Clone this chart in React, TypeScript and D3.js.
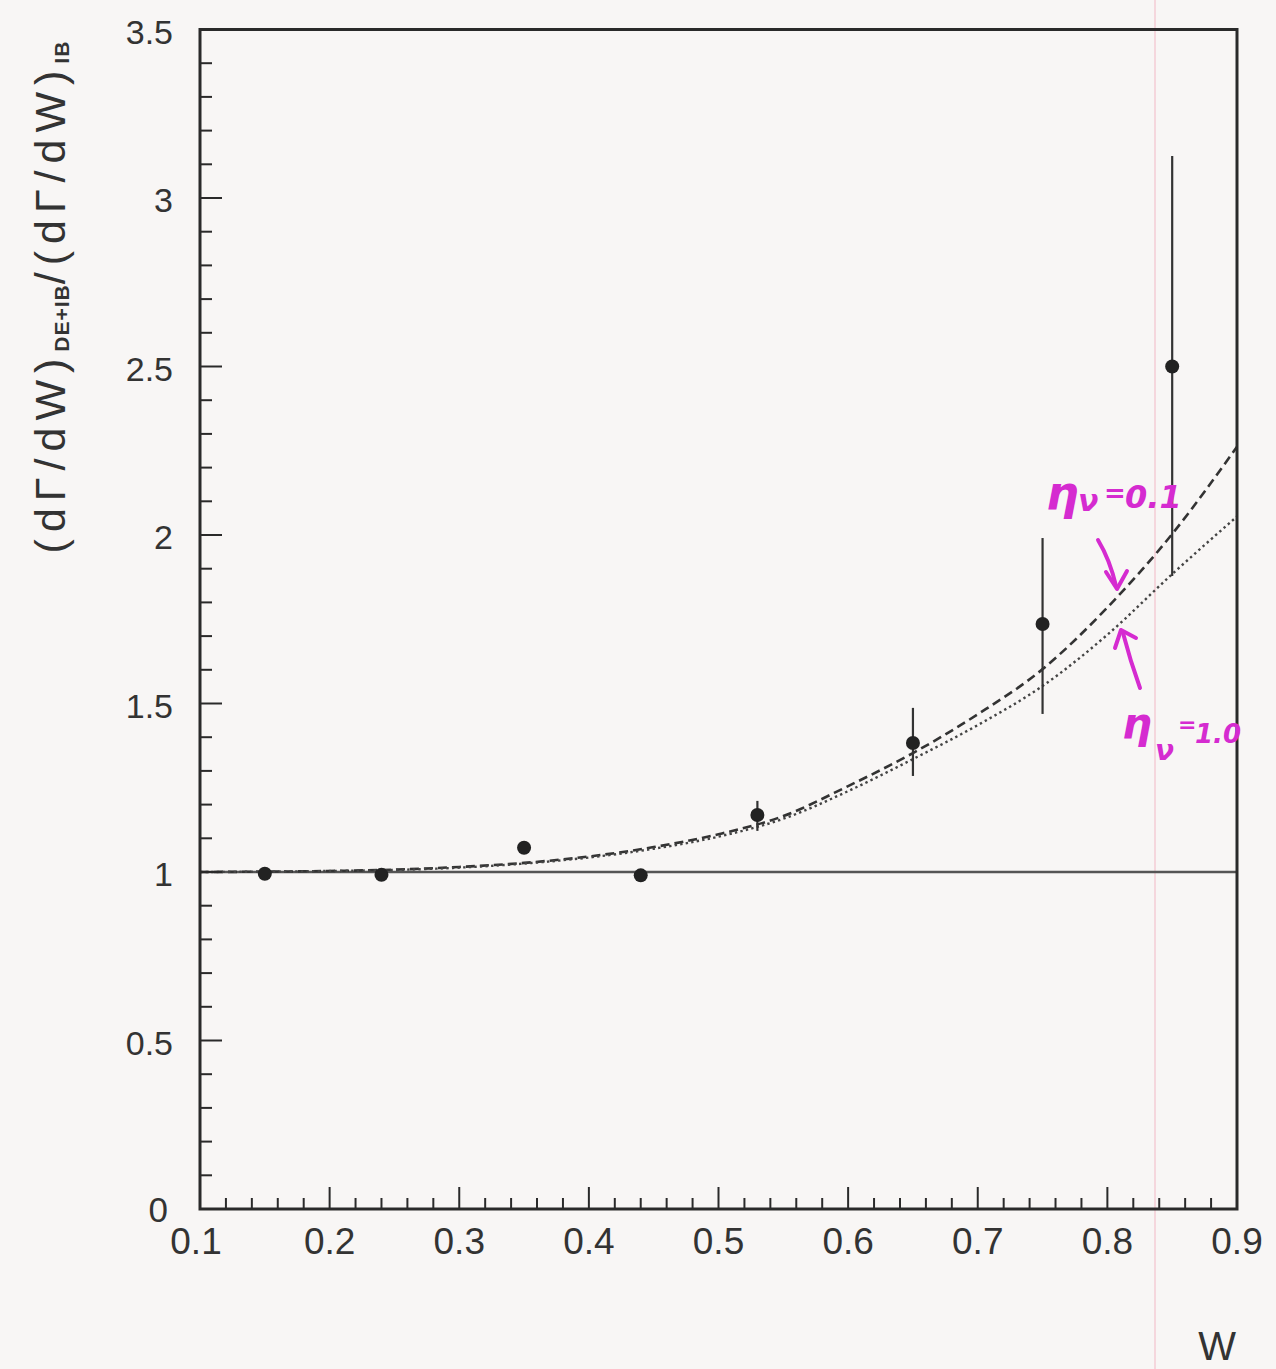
import React from "react";
import * as d3 from "d3";

// ---- data ----
const wBins = [0.15, 0.24, 0.35, 0.44, 0.53, 0.65, 0.75, 0.85];
const ratio = [0.995, 0.992, 1.072, 0.99, 1.169, 1.383, 1.736, 2.5];
const errLow = [0.995, 0.992, 1.072, 0.99, 1.122, 1.285, 1.469, 1.878];
const errHigh = [0.995, 0.992, 1.072, 0.99, 1.211, 1.487, 1.991, 3.125];

const curveW = [0.1, 0.15, 0.2, 0.25, 0.3, 0.35, 0.4, 0.45, 0.5, 0.55, 0.6, 0.65, 0.7, 0.75, 0.8, 0.85, 0.9];
const dashedEta01 = [1.0, 1.001, 1.003, 1.007, 1.015, 1.027, 1.046, 1.074, 1.112, 1.166, 1.255, 1.353, 1.468, 1.602, 1.785, 2.003, 2.262];
const dottedEta10 = [1.0, 1.001, 1.003, 1.006, 1.013, 1.025, 1.043, 1.069, 1.105, 1.158, 1.24, 1.335, 1.436, 1.552, 1.704, 1.884, 2.055];

const xMajorTicks = [0.1, 0.2, 0.3, 0.4, 0.5, 0.6, 0.7, 0.8, 0.9];
const xTickLabels = ["0.1", "0.2", "0.3", "0.4", "0.5", "0.6", "0.7", "0.8", "0.9"];
const yMajorTicks = [0, 0.5, 1, 1.5, 2, 2.5, 3, 3.5];
const yTickLabels = ["0", "0.5", "1", "1.5", "2", "2.5", "3", "3.5"];

export default function App() {
  const W = 1276;
  const H = 1369;
  const x = d3.scaleLinear().domain([0.1, 0.9]).range([200, 1237]);
  const y = d3.scaleLinear().domain([0, 3.5]).range([1209, 29.5]);

  const xMinor = d3.range(0, 41).map((i) => 0.1 + i * 0.02).filter((v) => Math.abs(Math.round(v * 10) - v * 10) > 1e-6);
  const yMinor = d3.range(0, 36).map((i) => i * 0.1).filter((v) => Math.abs(Math.round(v * 2) - v * 2) > 1e-6);

  const line = d3
    .line<number>()
    .x((_, i) => x(curveW[i]))
    .y((d) => y(d))
    .curve(d3.curveMonotoneX);

  const axisCol = "#2a2a2a";
  const textCol = "#333";
  const magenta = "#d52bd0";
  const font = "'Liberation Sans', Arial, Helvetica, sans-serif";
  const hand = "'DejaVu Sans', sans-serif";

  return (
    <svg
      width={W}
      height={H}
      style={{ position: "absolute", left: 0, top: 0, background: "#f8f6f5" }}
      xmlns="http://www.w3.org/2000/svg"
    >
      <rect x={0} y={0} width={W} height={H} fill="#f8f6f5" />
      {/* faint pink scan line */}
      <line x1={1155} x2={1155} y1={0} y2={H} stroke="#f3c3cd" strokeWidth={1.2} />

      {/* y = 1 reference line */}
      <line x1={x(0.1)} x2={x(0.9)} y1={y(1)} y2={y(1)} stroke="#555" strokeWidth={2.5} />

      {/* theory curves */}
      <path d={line(dashedEta01) || ""} fill="none" stroke="#333" strokeWidth={2.6} strokeDasharray="9,5" />
      <path d={line(dottedEta10) || ""} fill="none" stroke="#444" strokeWidth={2.4} strokeDasharray="2.4,3.2" />

      {/* error bars and points */}
      {wBins.map((w, i) => (
        <g key={i}>
          {errHigh[i] - errLow[i] > 0.01 && (
            <line x1={x(w)} x2={x(w)} y1={y(errLow[i])} y2={y(errHigh[i])} stroke="#333" strokeWidth={2.2} />
          )}
          <circle cx={x(w)} cy={y(ratio[i])} r={7} fill="#222" />
        </g>
      ))}

      {/* frame */}
      <rect x={x(0.1)} y={y(3.5)} width={x(0.9) - x(0.1)} height={y(0) - y(3.5)} fill="none" stroke={axisCol} strokeWidth={3} />

      {/* y ticks */}
      {yMajorTicks.map((v) => (
        <line key={"ym" + v} x1={x(0.1)} x2={x(0.1) + 22} y1={y(v)} y2={y(v)} stroke={axisCol} strokeWidth={2} />
      ))}
      {yMinor.map((v) => (
        <line key={"yn" + v} x1={x(0.1)} x2={x(0.1) + 12} y1={y(v)} y2={y(v)} stroke={axisCol} strokeWidth={2} />
      ))}
      {/* x ticks */}
      {xMajorTicks.map((v) => (
        <line key={"xm" + v} x1={x(v)} x2={x(v)} y1={y(0)} y2={y(0) - 22} stroke={axisCol} strokeWidth={2} />
      ))}
      {xMinor.map((v) => (
        <line key={"xn" + v} x1={x(v)} x2={x(v)} y1={y(0)} y2={y(0) - 11} stroke={axisCol} strokeWidth={2} />
      ))}

      {/* y tick labels */}
      {yMajorTicks.map((v, i) =>
        v === 0 ? (
          <text key={"yl" + v} x={168} y={1222} textAnchor="end" fontFamily={font} fontSize={35} fill={textCol}>
            {yTickLabels[i]}
          </text>
        ) : (
          <text key={"yl" + v} x={173} y={y(v) + 14} textAnchor="end" fontFamily={font} fontSize={34} fill={textCol}>
            {yTickLabels[i]}
          </text>
        )
      )}
      {/* x tick labels */}
      {xMajorTicks.map((v, i) => (
        <text key={"xl" + v} x={x(v) - (i === 0 ? 4 : 0)} y={1254} textAnchor="middle" fontFamily={font} fontSize={37} fill={textCol}>
          {xTickLabels[i]}
        </text>
      ))}

      {/* x axis title */}
      <text x={1236} y={1360} textAnchor="end" fontFamily={font} fontSize={40} fill={textCol}>
        W
      </text>

      {/* y axis title */}
      <text
        transform="translate(65,297) rotate(-90)"
        textAnchor="middle"
        fontFamily={font}
        fill={textCol}
      >
        <tspan fontSize={43} letterSpacing={7}>(dΓ/dW)</tspan>
        <tspan fontSize={21} fontWeight="bold" dy={4} letterSpacing={1}>DE+IB</tspan>
        <tspan fontSize={43} dy={-4} letterSpacing={7}>/(dΓ/dW)</tspan>
        <tspan fontSize={21} fontWeight="bold" dy={4} letterSpacing={1}>IB</tspan>
      </text>

      {/* handwritten annotations */}
      <text x={1046} y={509} fontFamily={hand} fontStyle="italic" fontWeight="bold" fontSize={46} fill={magenta}>η</text>
      <text x={1078} y={511} fontFamily={hand} fontStyle="italic" fontWeight="bold" fontSize={30} fill={magenta}>ν</text>
      <text x={1104} y={502} fontFamily={hand} fontStyle="italic" fontWeight="bold" fontSize={26} fill={magenta}>=</text>
      <text x={1125} y={508} fontFamily={hand} fontStyle="italic" fontWeight="bold" fontSize={32} fill={magenta}>0.1</text>
      <path d="M1098,540 Q1110,560 1116,586" fill="none" stroke={magenta} strokeWidth={4} strokeLinecap="round" />
      <path d="M1106,572 L1117,589 L1127,571" fill="none" stroke={magenta} strokeWidth={4} strokeLinecap="round" strokeLinejoin="round" />

      <path d="M1140,688 Q1130,660 1123,633" fill="none" stroke={magenta} strokeWidth={4} strokeLinecap="round" />
      <path d="M1115,648 L1121,630 L1136,638" fill="none" stroke={magenta} strokeWidth={4} strokeLinecap="round" strokeLinejoin="round" />

      <text x={1122} y={738} fontFamily={hand} fontStyle="italic" fontWeight="bold" fontSize={42} fill={magenta}>η</text>
      <text x={1155} y={760} fontFamily={hand} fontStyle="italic" fontWeight="bold" fontSize={28} fill={magenta}>ν</text>
      <text x={1178} y={732} fontFamily={hand} fontStyle="italic" fontWeight="bold" fontSize={22} fill={magenta}>=</text>
      <text x={1195} y={743} fontFamily={hand} fontStyle="italic" fontWeight="bold" fontSize={26} fill={magenta}>1.0</text>
    </svg>
  );
}
